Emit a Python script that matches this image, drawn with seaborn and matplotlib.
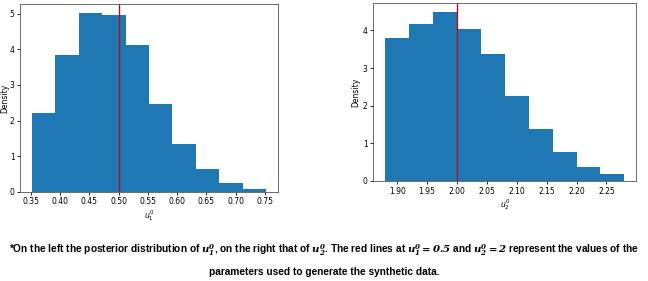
import matplotlib
matplotlib.use("Agg")
import matplotlib.pyplot as plt
import seaborn as sns
import numpy as np

# bold math in the caption: heavy italic serif, like the original
plt.rcParams["mathtext.fontset"] = "custom"
plt.rcParams["mathtext.rm"] = "DejaVu Sans"
plt.rcParams["mathtext.it"] = "DejaVu Sans:italic"
plt.rcParams["mathtext.bf"] = "DejaVu Serif:bold:italic"

# bin edges and densities
u1_edges = [0.352, 0.392, 0.432, 0.472, 0.512, 0.552, 0.592, 0.632, 0.672, 0.712, 0.752]
u1_density = [2.20, 3.85, 5.02, 4.97, 4.12, 2.47, 1.33, 0.65, 0.26, 0.07]
u1_true = 0.5

u2_edges = [1.88, 1.92, 1.96, 2.00, 2.04, 2.08, 2.12, 2.16, 2.20, 2.24, 2.28]
u2_density = [3.80, 4.18, 4.50, 4.05, 3.38, 2.25, 1.38, 0.78, 0.37, 0.18]
u2_true = 2.0

caption_1 = (r"*On the left the posterior distribution of $\mathbf{u_1^0}$, on the right that of "
             r"$\mathbf{u_2^0}$. The red lines at $\mathbf{u_1^0 = 0.5}$ and "
             r"$\mathbf{u_2^0 = 2}$ represent the values of the")
caption_2 = "parameters used to generate the synthetic data."

fig = plt.figure(figsize=(6.48, 2.81), dpi=100)
ax1 = fig.add_axes([0.031, 0.317, 0.398, 0.669])
ax2 = fig.add_axes([0.576, 0.356, 0.406, 0.633])


def draw(ax, edges, dens, true_val, xlab, ticks):
    centers = [(edges[i] + edges[i + 1]) / 2 for i in range(len(dens))]
    sns.histplot(x=centers, weights=dens, bins=edges, stat="count",
                 color="#1f77b4", alpha=1, linewidth=0, ax=ax)
    ax.axvline(true_val, color="#b01020", lw=1)
    ax.set_xticks(ticks)
    ax.tick_params(labelsize=5.5, length=2.5, width=0.6, pad=1.5)
    ax.set_ylabel("Density", fontsize=5.5)
    ax.set_xlabel(xlab, fontsize=5.5, labelpad=1)
    for s in ax.spines.values():
        s.set_linewidth(0.6)
        s.set_color("#555555")


draw(ax1, u1_edges, u1_density, u1_true, r"$u_1^0$",
     [0.35, 0.40, 0.45, 0.50, 0.55, 0.60, 0.65, 0.70, 0.75])
ax1.set_yticks([0, 1, 2, 3, 4, 5])
ax1.yaxis.set_label_coords(-11 / 258, 0.5)
draw(ax2, u2_edges, u2_density, u2_true, r"$u_2^0$",
     [1.90, 1.95, 2.00, 2.05, 2.10, 2.15, 2.20, 2.25])
ax2.set_yticks([0, 1, 2, 3, 4])
ax2.yaxis.set_label_coords(-13 / 263, 0.5)

cap_font = ["Liberation Sans", "DejaVu Sans"]
fig.text(0.5, 1 - 250 / 281, caption_1, ha="center", va="center",
         fontsize=7.3, family=cap_font, weight="bold")
fig.text(0.5, 1 - 272 / 281, caption_2, ha="center", va="center",
         fontsize=7.3, family=cap_font, weight="bold")

fig.savefig("out.png", dpi=100)
